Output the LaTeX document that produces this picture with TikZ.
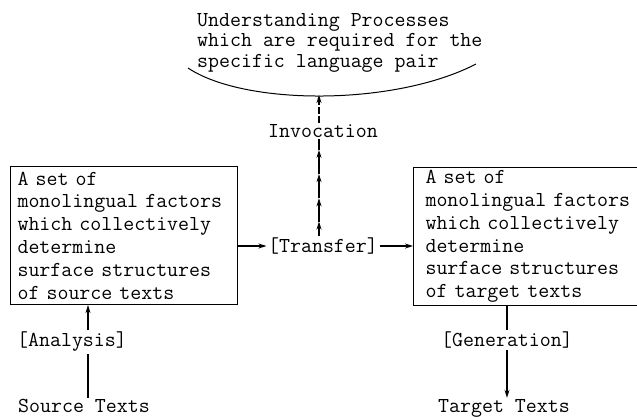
\documentclass[tikz,border=0pt]{standalone}
\usepackage{fontspec}
\usetikzlibrary{arrows.meta,calc}
\begin{document}
\begin{tikzpicture}[x=1pt,y=-1pt,
  tt/.style={font=\ttfamily\fontsize{21.3}{22.8}\selectfont},
  factbox/.style={tt,draw,line width=1.1pt,anchor=north west,align=left,
    text width=213pt,minimum height=138pt,inner ysep=0pt},
  lbl/.style={tt,inner sep=1.5pt},
  conn/.style={line width=1.1pt},
  tip/.style={-{Stealth[length=8pt,width=5pt]}}
]
\useasboundingbox (0,0) rectangle (637,416);

% title
\node[tt,anchor=north west,align=left,inner sep=0pt,
  font=\ttfamily\fontsize{21.3}{20.7}\selectfont] (title) at (197,13)
  {Understanding Processes\\which are required for the\\specific language pair};
\draw[line width=1pt] (188,68) .. controls (245,106) and (395,106) .. (476,64);
\coordinate (arcpt) at (319,95);

% boxes
\node[factbox,inner xsep=7pt] (lbox) at (10,166)
  {A set of\\monolingual factors\\which collectively\\determine\\surface structures\\of source texts};
\node[factbox,inner xsep=12pt] (rbox) at (413,167)
  {A set of\\monolingual factors\\which collectively\\determine\\surface structures\\of target texts};

% labels
\node[lbl] (trans) at (323,246) {[Transfer]};
\node[lbl] (inv) at (323,131) {Invocation};
\node[lbl] (ana) at (72,342) {[Analysis]};
\node[lbl] (gen) at (507,340) {[Generation]};
\node[tt,anchor=base west,inner sep=1pt] (src) at (17,412) {Source Texts};
\node[tt,anchor=base west,inner sep=1pt] (tgt) at (437,412) {Target Texts};

\coordinate (vx) at (319,0);
\coordinate (ax) at (88,0);
\coordinate (gx) at (507,0);
\coordinate (vb) at (trans.north -| vx);
\coordinate (vt) at (inv.south -| vx);
\coordinate (m1) at ($(vb)!0.15!(vt)$);
\coordinate (m2) at ($(vb)!0.39!(vt)$);
\coordinate (m3) at ($(vb)!0.64!(vt)$);
\coordinate (m4) at ($(vb)!0.89!(vt)$);

% connectors
\draw[conn,tip] (lbox.east |- trans) -- (trans.west);
\draw[conn,tip] (trans.east) -- (rbox.west |- trans);
\draw[conn,tip] (vb) -- (m1);
\draw[conn,tip] (m1) -- (m2);
\draw[conn,tip] (m2) -- (m3);
\draw[conn,tip] (m3) -- (m4);
\draw[conn] (m4) -- (vt);
\draw[conn,tip,dash pattern=on 7pt off 2pt] (inv.north -| vx) -- (arcpt);
\draw[conn] (src.north -| ax) -- (ana.south -| ax);
\draw[conn,tip] (ana.north -| ax) -- (lbox.south -| ax);
\draw[conn] (rbox.south -| gx) -- (gen.north -| gx);
\draw[conn,tip] (gen.south -| gx) -- (tgt.north -| gx);
\end{tikzpicture}
\end{document}
